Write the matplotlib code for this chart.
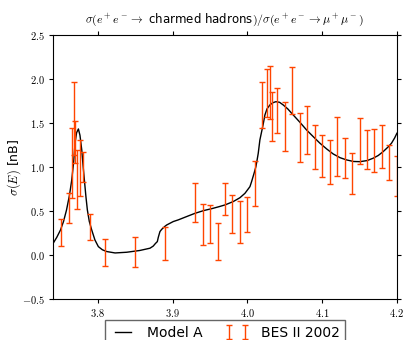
import numpy as np
import matplotlib
matplotlib.use("Agg")
import matplotlib.pyplot as plt
from matplotlib.ticker import FuncFormatter

plt.rcParams['mathtext.fontset'] = 'cm'

# Model A curve (energy in GeV, sigma in nB)
model_e = [3.741, 3.745, 3.750, 3.754, 3.758, 3.762, 3.765, 3.7675, 3.7694, 3.7715, 3.7739,
           3.7760, 3.7784, 3.7800, 3.7819, 3.7840, 3.7859, 3.7885, 3.7917, 3.7960, 3.8006,
           3.8060, 3.8118, 3.8230, 3.8385, 3.8560, 3.8697, 3.8740, 3.8770, 3.8795, 3.8808,
           3.8830, 3.8853, 3.8897, 3.8920, 3.9008, 3.9075, 3.9200, 3.9300, 3.9420, 3.9520,
           3.9620, 3.9700, 3.9810, 3.9900, 3.9967, 4.0034, 4.0056, 4.0090, 4.0114, 4.0130,
           4.0145, 4.0167, 4.0190, 4.0210, 4.0234, 4.0262, 4.0301, 4.0340, 4.0381, 4.0430,
           4.0479, 4.0540, 4.0613, 4.0700, 4.0792, 4.0880, 4.0970, 4.1060, 4.1147, 4.1240,
           4.1326, 4.1420, 4.1504, 4.1600, 4.1682, 4.1750, 4.1816, 4.1880, 4.1928, 4.1970,
           4.2000]
model_sigma = [0.144, 0.200, 0.284, 0.380, 0.510, 0.680, 0.852, 1.050, 1.270, 1.390, 1.432,
               1.360, 1.193, 1.030, 0.852, 0.660, 0.511, 0.380, 0.284, 0.170, 0.094,
               0.058, 0.038, 0.022, 0.030, 0.050, 0.076, 0.100, 0.130, 0.151, 0.200,
               0.265, 0.290, 0.325, 0.340, 0.379, 0.398, 0.440, 0.473, 0.505, 0.525,
               0.548, 0.568, 0.606, 0.650, 0.700, 0.776, 0.833, 0.930, 1.004, 1.080,
               1.155, 1.307, 1.400, 1.480, 1.590, 1.660, 1.705, 1.730, 1.742, 1.735,
               1.705, 1.660, 1.591, 1.510, 1.420, 1.345, 1.270, 1.205, 1.148, 1.105,
               1.080, 1.062, 1.060, 1.072, 1.099, 1.130, 1.174, 1.225, 1.270, 1.330,
               1.383]

# BES II 2002 points: energy, lower and upper end of the error bar
bes_e = [3.750, 3.761, 3.765, 3.768, 3.770, 3.7725, 3.776, 3.780, 3.790, 3.810,
         3.850, 3.890, 3.930, 3.940, 3.950, 3.960, 3.970, 3.980, 3.990, 4.000,
         4.010, 4.020, 4.0265, 4.030, 4.033, 4.040, 4.050, 4.060, 4.070, 4.080,
         4.090, 4.100, 4.110, 4.120, 4.130, 4.140, 4.150, 4.160, 4.170, 4.180,
         4.190, 4.200]
bes_lo = [0.102, 0.360, 0.644, 1.136, 1.049, 0.523, 0.670, 0.826, 0.167, -0.130,
          -0.136, -0.057, 0.375, 0.108, 0.136, -0.055, 0.455, 0.252, 0.140, 0.258,
          0.558, 1.442, 1.565, 1.540, 1.295, 1.388, 1.178, 1.598, 1.060, 1.144,
          0.980, 0.886, 0.810, 0.900, 0.878, 0.693, 1.034, 0.977, 0.943, 0.985,
          0.849, 0.674]
bes_hi = [0.404, 0.700, 1.443, 1.962, 1.526, 1.190, 1.310, 1.170, 0.463, 0.185,
          0.207, 0.312, 0.817, 0.574, 0.566, 0.364, 0.823, 0.676, 0.610, 0.663,
          1.072, 1.970, 2.118, 2.148, 1.852, 1.898, 1.739, 2.136, 1.617, 1.697,
          1.474, 1.367, 1.310, 1.572, 1.333, 1.163, 1.560, 1.417, 1.428, 1.477,
          1.250, 1.125]

bes_e = np.array(bes_e)
bes_lo = np.array(bes_lo)
bes_hi = np.array(bes_hi)
bes_mid = (bes_lo + bes_hi) / 2
bes_err = (bes_hi - bes_lo) / 2

fig = plt.figure(figsize=(4.05, 3.4), dpi=100)
ax = fig.add_axes([0.131, 0.121, 0.849, 0.776])

ax.plot(model_e, model_sigma, color='black', lw=1.0, label='Model A')
ax.errorbar(bes_e, bes_mid, yerr=bes_err, fmt='none', ecolor='orangered',
            elinewidth=1.0, capsize=2.5, capthick=1.0, label='BES II 2002')

ax.set_xlim(3.74, 4.2)
ax.set_ylim(-0.5, 2.5)
ax.set_xticks([3.8, 3.9, 4.0, 4.1, 4.2])
ax.set_yticks([-0.5, 0.0, 0.5, 1.0, 1.5, 2.0, 2.5])
fmt = FuncFormatter(lambda v, pos: '$%.1f$' % v if v >= 0 else '$-%.1f$' % -v)
ax.xaxis.set_major_formatter(fmt)
ax.yaxis.set_major_formatter(fmt)
ax.tick_params(direction='out', top=True, right=True, length=3, width=0.8,
               labelsize=7.5, pad=3)

ax.set_title(r'$\sigma(e^+e^-\to$ charmed hadrons$)/\sigma(e^+e^-\to\mu^+\mu^-)$',
             fontsize=8.5, pad=9)
ax.set_ylabel(r'$\sigma(E)$ [nB]', fontsize=9)
ax.yaxis.set_label_coords(-0.088, 0.5)

leg = ax.legend(loc='upper center', bbox_to_anchor=(0.5, -0.08), ncol=2,
                numpoints=2, fontsize=10, fancybox=False, framealpha=1,
                edgecolor='0.4', columnspacing=1.6, handlelength=1.8,
                borderaxespad=0)

fig.savefig('out.png', dpi=100)
